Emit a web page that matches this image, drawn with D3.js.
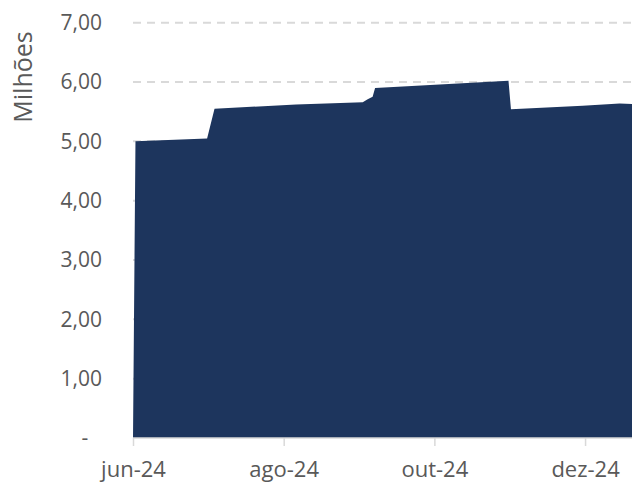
<!DOCTYPE html>
<html>
<head>
<meta charset="utf-8">
<script src="https://cdn.jsdelivr.net/npm/d3@7"></script>
<style>
  body { margin: 0; background: #fff; }
  text { font-family: "Open Sans", sans-serif; fill: #595959; }
</style>
</head>
<body>
<svg id="chart"></svg>
<script>
var canvas_width = 632;
var canvas_height = 486;
var left_offset = 133;
var right_edge = 632;
var top_offset = 22.7;
var base_line = 438;

// saldo diario (milhoes)
var dates = ["2024-06-01", "2024-06-02", "2024-07-01", "2024-07-04", "2024-08-06",
             "2024-09-02", "2024-09-04", "2024-09-06", "2024-09-07", "2024-10-31",
             "2024-11-01", "2024-11-30", "2024-12-15", "2024-12-20"];
var values = [0, 5.00, 5.05, 5.55, 5.62,
              5.66, 5.71, 5.75, 5.90, 6.02,
              5.54, 5.60, 5.64, 5.63];

var y_ticks = [0, 1, 2, 3, 4, 5, 6, 7];
var x_ticks = ["2024-06-01", "2024-08-01", "2024-10-01", "2024-12-01"];
var month_names = ["jan", "fev", "mar", "abr", "mai", "jun", "jul", "ago", "set", "out", "nov", "dez"];
var axis_title = "Milhões";

let parse = d3.utcParse("%Y-%m-%d");
let data = dates.map((d, i) => ({date: parse(d), value: values[i]}));

let svg = d3.select("#chart");
svg.attr("width", canvas_width).attr("height", canvas_height);

let x = d3.scaleUtc()
    .domain([parse("2024-06-01"), parse("2024-12-20")])
    .range([left_offset, right_edge]);

let y = d3.scaleLinear()
    .domain([0, 7])
    .range([base_line, top_offset]);

// gridlines
svg.selectAll(".grid")
    .data(y_ticks.filter(d => d > 0))
    .join("line")
    .attr("class", "grid")
    .attr("x1", left_offset)
    .attr("x2", right_edge)
    .attr("y1", d => y(d))
    .attr("y2", d => y(d))
    .attr("stroke", "#d9d9d9")
    .attr("stroke-width", 2)
    .attr("stroke-dasharray", "8,6");

// area
let area = d3.area()
    .x(d => x(d.date))
    .y0(y(0))
    .y1(d => y(d.value));

svg.append("path")
    .datum(data)
    .attr("d", area)
    .attr("fill", "#1d355d");

// y labels
svg.selectAll(".y-label")
    .data(y_ticks)
    .join("text")
    .attr("class", "y-label")
    .attr("x", d => d == 0 ? 85 : 102)
    .attr("y", d => y(d))
    .attr("dy", "0.35em")
    .attr("text-anchor", d => d == 0 ? "middle" : "end")
    .style("font-size", "21px")
    .text(d => d == 0 ? "-" : d.toFixed(2).replace(".", ","));

// x axis
let x_axis = d3.axisBottom(x)
    .tickValues(x_ticks.map(parse))
    .tickSize(8)
    .tickPadding(15)
    .tickFormat(d => month_names[d.getUTCMonth()] + "-" + String(d.getUTCFullYear()).slice(2));

let gx = svg.append("g")
    .attr("transform", "translate(0," + base_line + ")")
    .call(x_axis);

gx.select(".domain")
    .attr("d", "M" + left_offset + ",0H" + right_edge)
    .attr("stroke", "#d9d9d9")
    .attr("stroke-width", 1.5);
gx.selectAll(".tick line")
    .attr("stroke", "#d9d9d9")
    .attr("stroke-width", 1.5);
gx.selectAll(".tick text")
    .style("font-size", "22px")
    .style("font-family", "'Open Sans', sans-serif")
    .attr("fill", "#595959");

// axis title
svg.append("text")
    .attr("transform", "translate(32,77) rotate(-90)")
    .attr("text-anchor", "middle")
    .style("font-size", "25px")
    .text(axis_title);
</script>
</body>
</html>
